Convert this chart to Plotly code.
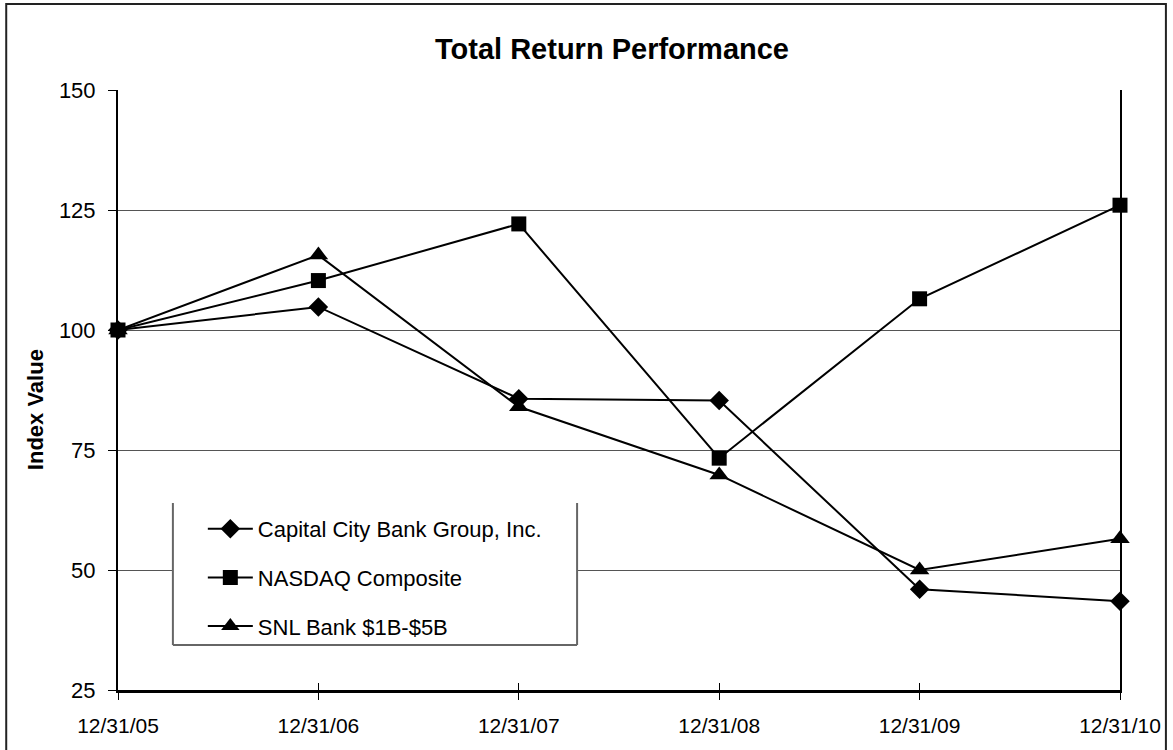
import plotly.graph_objects as go

dates = ["12/31/05", "12/31/06", "12/31/07", "12/31/08", "12/31/09", "12/31/10"]
capital_city = [100, 104.8, 85.7, 85.3, 46.0, 43.5]
nasdaq = [100, 110.3, 122.1, 73.3, 106.5, 126.0]
snl_bank = [100, 115.6, 84.0, 69.8, 50.0, 56.5]
y_ticks = [25, 50, 75, 100, 125, 150]

FONT = "Arial, 'Liberation Sans', sans-serif"
xpos = list(range(len(dates)))

series = [
    ("Capital City Bank Group, Inc.", capital_city, "diamond", 15),
    ("NASDAQ Composite", nasdaq, "square", 15),
    ("SNL Bank $1B-$5B", snl_bank, "triangle-up", 17),
]

fig = go.Figure()
for i, (name, vals, sym, sz) in enumerate(series):
    fig.add_trace(go.Scatter(
        x=xpos, y=vals, name=name, mode="lines+markers",
        line=dict(color="black", width=2),
        marker=dict(symbol=sym, size=sz, color="black"),
        legendgroup=f"g{i}", cliponaxis=False,
    ))

# invisible trace so the overlay axis (inside tick marks) gets drawn
fig.add_trace(go.Scatter(x=[0], y=[None], xaxis="x2", showlegend=False,
                         hoverinfo="skip", mode="lines"))

W, H = 1173, 750
L, R, T, B = 118, 1122, 90, 690
pw, ph = R - L, B - T

def px(x):
    return (x - L) / pw

def py(y):
    return (B - y) / ph

fig.update_layout(
    width=W, height=H,
    margin=dict(l=L, r=W - R, t=T, b=H - B),
    paper_bgcolor="white", plot_bgcolor="white",
    font=dict(family=FONT, color="black", size=21),
    title=dict(text="<b>Total Return Performance</b>", x=612 / W, xanchor="center",
               y=1 - 49 / H, yanchor="middle", font=dict(size=29, family=FONT)),
    showlegend=True,
    legend=dict(x=px(203), y=py(508), xanchor="left", yanchor="top",
                bgcolor="rgba(0,0,0,0)", borderwidth=0, traceorder="grouped",
                tracegroupgap=17, itemwidth=45, font=dict(size=22, family=FONT)),
    xaxis=dict(range=[0, 5], tickvals=xpos, ticktext=dates, showgrid=False,
               zeroline=False, showline=True, linecolor="black", linewidth=3,
               ticks="outside", ticklen=7, tickcolor="black", tickwidth=1,
               ticklabelstandoff=8, tickfont=dict(size=21)),
    xaxis2=dict(range=[0, 5], overlaying="x", anchor="y", tickvals=xpos,
                showticklabels=False, showgrid=False, zeroline=False,
                showline=False, ticks="inside", ticklen=7, tickcolor="black", tickwidth=1),
    yaxis=dict(range=[25, 150], tickvals=y_ticks, showgrid=True, gridcolor="#555",
               gridwidth=1, zeroline=False, showline=True, linecolor="black",
               linewidth=2, mirror=True, ticks="outside", ticklen=8,
               tickcolor="black", ticklabelstandoff=8, tickfont=dict(size=22)),
    annotations=[dict(text="<b>Index Value</b>", textangle=-90, x=px(35), y=py(410),
                      xref="paper", yref="paper", xanchor="center", yanchor="middle",
                      showarrow=False, font=dict(size=22, family=FONT))],
    shapes=[
        # outer frame
        dict(type="rect", xref="paper", yref="paper", x0=px(6), x1=px(1168),
             y0=py(765), y1=py(4), line=dict(color="#222", width=2), layer="above"),
        # legend box background and its three visible edges
        dict(type="rect", xref="paper", yref="paper", x0=px(173), x1=px(578),
             y0=py(645), y1=py(503), fillcolor="white", line=dict(width=0), layer="above"),
        dict(type="line", xref="paper", yref="paper", x0=px(173), x1=px(173),
             y0=py(645), y1=py(503), line=dict(color="#666", width=2), layer="above"),
        dict(type="line", xref="paper", yref="paper", x0=px(578), x1=px(578),
             y0=py(645), y1=py(503), line=dict(color="#666", width=2), layer="above"),
        dict(type="line", xref="paper", yref="paper", x0=px(173), x1=px(578),
             y0=py(645), y1=py(645), line=dict(color="#666", width=2), layer="above"),
    ],
)

fig.write_html("out.html", config={"displayModeBar": False},
               post_script="document.body.style.margin='0';document.body.style.overflow='hidden';")
